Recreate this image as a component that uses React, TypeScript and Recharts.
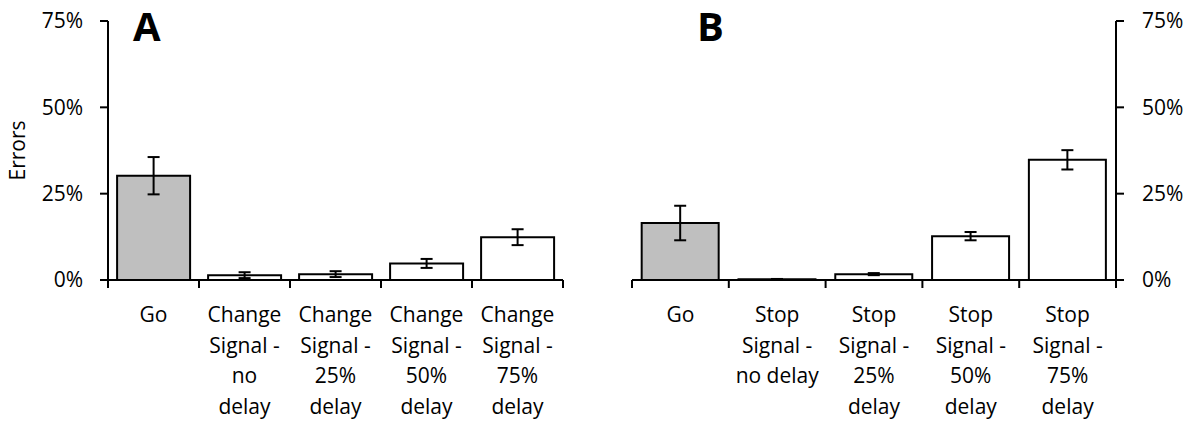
import { Bar, BarChart, Cell, ErrorBar, XAxis, YAxis } from 'recharts';

const LABELS_A = [
  'Go',
  'Change\nSignal -\nno\ndelay',
  'Change\nSignal -\n25%\ndelay',
  'Change\nSignal -\n50%\ndelay',
  'Change\nSignal -\n75%\ndelay',
];
const ERRORS_A = [30.2, 1.4, 1.7, 4.8, 12.4];
const SEM_A = [5.4, 0.85, 0.85, 1.3, 2.3];

const LABELS_B = [
  'Go',
  'Stop\nSignal -\nno delay',
  'Stop\nSignal -\n25%\ndelay',
  'Stop\nSignal -\n50%\ndelay',
  'Stop\nSignal -\n75%\ndelay',
];
const ERRORS_B = [16.5, 0.2, 1.7, 12.7, 34.8];
const SEM_B = [5.0, 0.1, 0.3, 1.2, 2.8];

const Y_TICKS = [0, 25, 50, 75];
// category boundaries for the hanging x ticks
const EDGE_TICKS = [0, 1, 2, 3, 4, 5];

const FONT = 'Open Sans';
const AXIS = { stroke: '#000', strokeWidth: 2 };

function CategoryTick(props: any) {
  const { x, y, payload } = props;
  const lines = String(payload.value).split('\n');
  return (
    <text x={x} y={y} textAnchor="middle" fill="#000" fontSize={21} fontFamily={FONT}>
      {lines.map((line, i) => (
        <tspan key={i} x={x} dy={i === 0 ? 41 : 30.5}>
          {line}
        </tspan>
      ))}
    </text>
  );
}

const EmptyTick = () => <g />;

interface PanelProps {
  labels: string[];
  values: number[];
  sems: number[];
  side: 'left' | 'right';
}

function Panel({ labels, values, sems, side }: PanelProps) {
  const data = labels.map((name, i) => ({ name, value: values[i], sem: sems[i], slot: i + 0.5 }));
  const isLeft = side === 'left';

  return (
    <BarChart
      width={isLeft ? 600 : 596}
      height={428}
      data={data}
      margin={isLeft ? { top: 21, right: 37, bottom: 0, left: 0 } : { top: 21, right: 0, bottom: 0, left: 32 }}
      barCategoryGap="10%"
    >
      {/* axes stack by id, so the edge axis sorts first to sit on the plot */}
      <XAxis
        xAxisId="aEdge"
        dataKey="slot"
        type="number"
        domain={[0, 5]}
        ticks={EDGE_TICKS}
        allowDataOverflow
        tickSize={8}
        height={1}
        axisLine={AXIS}
        tickLine={AXIS}
        tick={EmptyTick}
      />
      <XAxis
        xAxisId="zCat"
        dataKey="name"
        type="category"
        height={147}
        interval={0}
        axisLine={false}
        tickLine={false}
        tickSize={0}
        tickMargin={0}
        tick={<CategoryTick />}
      />
      <YAxis
        orientation={isLeft ? 'left' : 'right'}
        width={isLeft ? 108 : 80}
        domain={[0, 75]}
        ticks={Y_TICKS}
        tickFormatter={(v) => `${v}%`}
        tickSize={8}
        tickMargin={isLeft ? 17 : 18}
        axisLine={AXIS}
        tickLine={AXIS}
        tick={{ fill: '#000', fontSize: 21, fontFamily: FONT }}
        label={
          isLeft
            ? {
                content: ({ viewBox }: any) => (
                  <text
                    x={17}
                    y={viewBox.y + viewBox.height / 2}
                    transform={`rotate(-90, 17, ${viewBox.y + viewBox.height / 2})`}
                    textAnchor="middle"
                    dominantBaseline="central"
                    fill="#000"
                    fontSize={21}
                    fontFamily={FONT}
                  >
                    Errors
                  </text>
                ),
              }
            : undefined
        }
      />
      <Bar xAxisId="zCat" dataKey="value" stroke="#000" strokeWidth={2} isAnimationActive={false}>
        {data.map((_, i) => (
          <Cell key={i} fill={i === 0 ? '#bfbfbf' : '#ffffff'} />
        ))}
        <ErrorBar dataKey="sem" direction="y" width={6} stroke="#000" strokeWidth={2} isAnimationActive={false} />
      </Bar>
    </BarChart>
  );
}

export default function App() {
  return (
    <div style={{ position: 'absolute', left: 0, top: 0, width: 1196, height: 428, background: '#fff' }}>
      <div style={{ position: 'absolute', left: 0, top: 0 }}>
        <Panel labels={LABELS_A} values={ERRORS_A} sems={SEM_A} side="left" />
      </div>
      <div style={{ position: 'absolute', left: 600, top: 0 }}>
        <Panel labels={LABELS_B} values={ERRORS_B} sems={SEM_B} side="right" />
      </div>
      <svg width={1196} height={428} style={{ position: 'absolute', left: 0, top: 0, pointerEvents: 'none' }}>
        <text x={133} y={41} fontSize={40} fontWeight="bold" fontFamily={FONT} fill="#000">
          A
        </text>
        <text x={697} y={41} fontSize={40} fontWeight="bold" fontFamily={FONT} fill="#000">
          B
        </text>
      </svg>
    </div>
  );
}
